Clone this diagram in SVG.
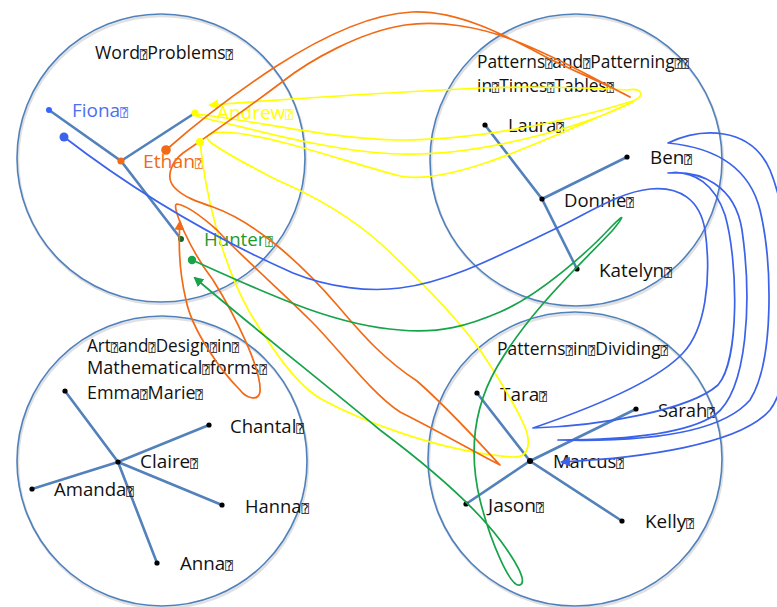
<svg xmlns="http://www.w3.org/2000/svg" width="777" height="607" viewBox="0 0 777 607">
<style>
.grp{fill:none;stroke:#4f81bd;stroke-width:1.6}
.sh{fill:none;stroke:#000;stroke-opacity:0.12;stroke-width:2.5}
.tree{fill:none;stroke:#5281bb;stroke-width:2.6;stroke-linecap:round}
.d{fill:#000}
text{font-family:"Open Sans","Liberation Sans",sans-serif;font-size:17.5px;fill:#111}
.q{font-family:"DejaVu Sans Mono","DejaVu Sans",sans-serif;font-size:12px}
.c{fill:none;stroke-width:1.7;stroke-linejoin:round;stroke-linecap:round}
</style>
<defs>
<marker id="aY" viewBox="0 0 10 10" refX="8" refY="5" markerWidth="10" markerHeight="10" markerUnits="userSpaceOnUse" orient="auto"><path d="M0,0 L10,5 L0,10 z" fill="#ffff00"/></marker>
<marker id="aO" viewBox="0 0 10 10" refX="8" refY="5" markerWidth="10" markerHeight="10" markerUnits="userSpaceOnUse" orient="auto"><path d="M0,0 L10,5 L0,10 z" fill="#f26a15"/></marker>
<marker id="aG" viewBox="0 0 10 10" refX="8" refY="5" markerWidth="10" markerHeight="10" markerUnits="userSpaceOnUse" orient="auto"><path d="M0,0 L10,5 L0,10 z" fill="#16a34a"/></marker>
<marker id="aB" viewBox="0 0 10 10" refX="8" refY="5" markerWidth="10" markerHeight="10" markerUnits="userSpaceOnUse" orient="auto"><path d="M0,0 L10,5 L0,10 z" fill="#3b62ea"/></marker>
</defs>
<rect width="777" height="607" fill="#fff"/>

<g id="word-problems">
<circle class="sh" cx="162" cy="160" r="144"/>
<circle class="grp" cx="161" cy="158" r="144"/>
<text x="95" y="59" textLength="138" lengthAdjust="spacingAndGlyphs">Word<tspan class="q">⍰</tspan>Problems<tspan class="q">⍰</tspan></text>
<path class="tree" d="M49,110 L121,161 L181,239 M121,161 L195,113"/>
<circle cx="49" cy="110" r="3" fill="#3366ff"/>
<circle cx="121" cy="161" r="3.6" fill="#f26a15"/>
<circle cx="195" cy="113" r="3.6" fill="#ffff00"/>
<circle cx="181" cy="239" r="3" fill="#0b6b2a"/>
<text x="72" y="117" textLength="56" lengthAdjust="spacingAndGlyphs" style="fill:#4d6ff0">Fiona<tspan class="q">⍰</tspan></text>
<text x="217" y="119" textLength="76" lengthAdjust="spacingAndGlyphs" style="fill:#ffff00">Andrew<tspan class="q">⍰</tspan></text>
<text x="143" y="168" textLength="60" lengthAdjust="spacingAndGlyphs" style="fill:#f26a15">Ethan<tspan class="q">⍰</tspan></text>
<text x="204" y="246" textLength="69" lengthAdjust="spacingAndGlyphs" style="fill:#1f9a2a">Hunter<tspan class="q">⍰</tspan></text>
</g>

<g id="patterns-times-tables">
<circle class="sh" cx="577" cy="162" r="146"/>
<circle class="grp" cx="576" cy="160" r="146"/>
<text x="477" y="68" textLength="212" lengthAdjust="spacingAndGlyphs">Patterns<tspan class="q">⍰</tspan>and<tspan class="q">⍰</tspan>Patterning<tspan class="q">⍰⍰</tspan></text>
<text x="477" y="92" textLength="137" lengthAdjust="spacingAndGlyphs">in<tspan class="q">⍰</tspan>Times<tspan class="q">⍰</tspan>Tables<tspan class="q">⍰</tspan></text>
<path class="tree" d="M485,125 L542,199 L577,269 M542,199 L627,157"/>
<circle class="d" cx="485" cy="125" r="2.6"/>
<circle class="d" cx="542" cy="199" r="2.6"/>
<circle class="d" cx="627" cy="157" r="2.6"/>
<circle class="d" cx="577" cy="269" r="2.6"/>
<text x="508" y="132" textLength="56" lengthAdjust="spacingAndGlyphs">Laura<tspan class="q">⍰</tspan></text>
<text x="650" y="164" textLength="42" lengthAdjust="spacingAndGlyphs">Ben<tspan class="q">⍰</tspan></text>
<text x="564" y="207" textLength="70" lengthAdjust="spacingAndGlyphs">Donnie<tspan class="q">⍰</tspan></text>
<text x="599" y="277" textLength="73" lengthAdjust="spacingAndGlyphs">Katelyn<tspan class="q">⍰</tspan></text>
</g>

<g id="art-and-design">
<circle class="sh" cx="163" cy="463" r="145"/>
<circle class="grp" cx="162" cy="461" r="145"/>
<text x="87" y="352" textLength="152" lengthAdjust="spacingAndGlyphs">Art<tspan class="q">⍰</tspan>and<tspan class="q">⍰</tspan>Design<tspan class="q">⍰</tspan>in<tspan class="q">⍰</tspan></text>
<text x="87" y="374" textLength="180" lengthAdjust="spacingAndGlyphs">Mathematical<tspan class="q">⍰</tspan>forms<tspan class="q">⍰</tspan></text>
<text x="87" y="399" textLength="116" lengthAdjust="spacingAndGlyphs">Emma<tspan class="q">⍰</tspan>Marie<tspan class="q">⍰</tspan></text>
<path class="tree" d="M65,391 L118,462 L157,563 M32,489 L118,462 L209,425 M118,462 L222,505"/>
<circle class="d" cx="65" cy="391" r="2.6"/>
<circle class="d" cx="118" cy="462" r="2.6"/>
<circle class="d" cx="209" cy="425" r="2.6"/>
<circle class="d" cx="32" cy="489" r="2.6"/>
<circle class="d" cx="222" cy="505" r="2.6"/>
<circle class="d" cx="157" cy="563" r="2.6"/>
<text x="230" y="433" textLength="74" lengthAdjust="spacingAndGlyphs">Chantal<tspan class="q">⍰</tspan></text>
<text x="140" y="468" textLength="58" lengthAdjust="spacingAndGlyphs">Claire<tspan class="q">⍰</tspan></text>
<text x="54" y="496" textLength="80" lengthAdjust="spacingAndGlyphs">Amanda<tspan class="q">⍰</tspan></text>
<text x="245" y="513" textLength="64" lengthAdjust="spacingAndGlyphs">Hanna<tspan class="q">⍰</tspan></text>
<text x="180" y="570" textLength="53" lengthAdjust="spacingAndGlyphs">Anna<tspan class="q">⍰</tspan></text>
</g>

<g id="patterns-in-dividing">
<circle class="sh" cx="576" cy="461" r="147"/>
<circle class="grp" cx="575" cy="459" r="147"/>
<text x="497" y="355" textLength="171" lengthAdjust="spacingAndGlyphs">Patterns<tspan class="q">⍰</tspan>in<tspan class="q">⍰</tspan>Dividing<tspan class="q">⍰</tspan></text>
<path class="tree" d="M477,393 L530,461 L622,521 M466,504 L530,461 L636,409"/>
<circle class="d" cx="477" cy="393" r="2.6"/>
<circle class="d" cx="530" cy="461" r="3"/>
<circle class="d" cx="636" cy="409" r="2.6"/>
<circle class="d" cx="466" cy="504" r="2.6"/>
<circle class="d" cx="622" cy="521" r="2.6"/>
<text x="500" y="401" textLength="47" lengthAdjust="spacingAndGlyphs">Tara<tspan class="q">⍰</tspan></text>
<text x="658" y="417" textLength="57" lengthAdjust="spacingAndGlyphs">Sarah<tspan class="q">⍰</tspan></text>
<text x="553" y="468" textLength="71" lengthAdjust="spacingAndGlyphs">Marcus<tspan class="q">⍰</tspan></text>
<text x="488" y="512" textLength="56" lengthAdjust="spacingAndGlyphs">Jason<tspan class="q">⍰</tspan></text>
<text x="645" y="528" textLength="49" lengthAdjust="spacingAndGlyphs">Kelly<tspan class="q">⍰</tspan></text>
</g>

<g id="connectors">
<path class="c" stroke="#ffff00" marker-end="url(#aY)" d="M200,142 C205,190 220,260 250,313 C270,345 295,385 323,400 C360,420 440,452 513,457 C532,458 530,438 524,425 C515,405 500,380 480,350 C455,315 420,280 380,243 C345,212 305,192 277,180 C250,166 222,152 209,141 C203,134 212,131 235,133 C280,138 340,160 400,176 C450,186 540,142 633,102 C580,128 480,156 400,154 C330,152 250,128 199,117 C194,115 198,114 205,115 C260,122 340,140 400,140 C470,140 560,124 633,101 C646,96 642,87 627,90 C600,88 540,86 480,88 C400,92 300,98 210,105"/>
<path class="c" stroke="#f26a15" marker-end="url(#aO)" d="M166,150 C200,120 240,90 275,67 C320,38 370,14 412,12 C460,10 510,38 548,58 C580,74 610,86 630,97 C600,82 560,58 513,40 C480,27 440,20 405,25 C360,32 310,60 282,82 C250,106 205,138 183,153 C170,163 166,178 174,187 C183,197 198,202 213,207 C255,222 300,262 337,305 C365,338 385,360 417,381 C450,410 483,447 500,465 C480,455 440,432 400,412 C370,392 340,350 310,320 C280,290 240,255 217,230 C200,215 185,205 177,204 C170,204 190,250 213,280 C235,315 262,370 260,392 C258,402 246,398 240,390 C220,370 192,330 186,300 C180,275 178,250 180,222"/>
<path class="c" stroke="#16a34a" marker-end="url(#aG)" d="M192,260 C260,290 330,325 400,330 C440,334 470,325 500,312 C540,295 590,250 612,226 C624,214 626,214 612,231 C580,265 530,310 497,367 C475,405 468,450 480,500 C490,540 510,588 520,585 C528,582 515,560 500,540 C470,500 420,460 380,430 C320,380 250,325 195,278"/>
<path class="c" stroke="#3b62ea" marker-end="url(#aB)" d="M64,137 C120,180 200,232 293,273 C330,288 370,292 400,288 C450,282 500,255 557,228 C590,212 620,192 650,189 C680,186 700,200 705,230 C712,280 705,330 683,353 C660,378 600,405 533,428 C600,426 690,410 718,385 C740,360 738,260 725,215 C715,185 695,170 668,173 C700,170 735,185 742,230 C752,300 748,390 715,415 C680,438 600,440 558,440 C640,442 720,435 750,400 C775,360 772,260 760,210 C750,170 720,148 668,143 C700,128 750,125 770,170 C795,230 800,370 770,410 C740,445 640,458 562,462"/>
<circle cx="64" cy="137" r="4.5" fill="#3b62ea"/>
<circle cx="166" cy="150" r="4.8" fill="#f26a15"/>
<circle cx="192" cy="260" r="4.2" fill="#16a34a"/>
<circle cx="200" cy="142" r="4" fill="#ffff00"/>
</g>
</svg>
